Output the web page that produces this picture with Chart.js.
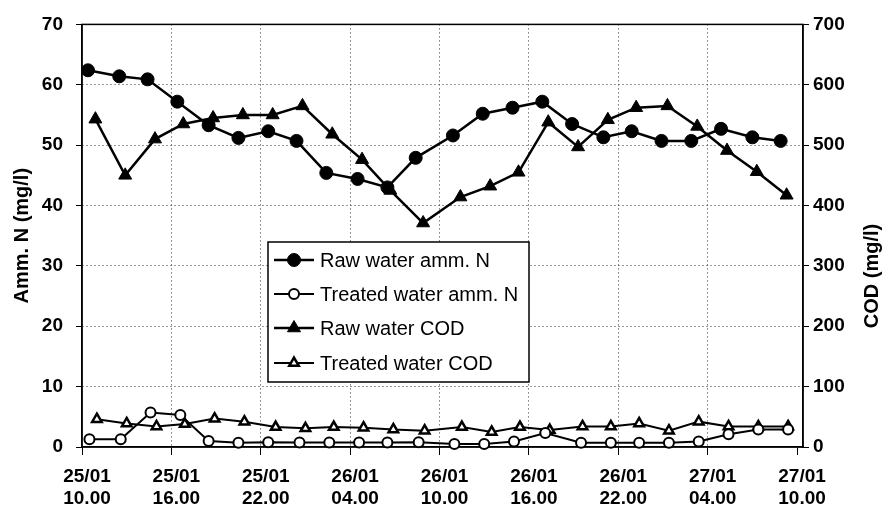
<!DOCTYPE html>
<html>
<head>
<meta charset="utf-8">
<script src="https://cdn.jsdelivr.net/npm/chart.js@4.4.1/dist/chart.umd.min.js"></script>
<style>
  html, body { margin: 0; padding: 0; background: #fff; }
  #wrap { position: relative; width: 885px; height: 508px; }
</style>
</head>
<body>
<div id="wrap"><canvas id="chart" width="885" height="508"></canvas></div>
<script>
// hours after 25/01 10.00
var rawNHours = [0.4, 2.5, 4.4, 6.4, 8.5, 10.5, 12.5, 14.4, 16.4, 18.5, 20.5, 22.4, 24.9, 26.9, 28.9, 30.9, 32.9, 35.0, 36.9, 38.9, 40.9, 42.9, 45.0, 46.9];
var rawN = [62.4, 61.4, 60.9, 57.2, 53.3, 51.2, 52.3, 50.7, 45.4, 44.4, 43.0, 47.9, 51.6, 55.2, 56.2, 57.2, 53.5, 51.3, 52.3, 50.7, 50.7, 52.7, 51.3, 50.7];

var treatedNHours = [0.5, 2.6, 4.6, 6.6, 8.5, 10.5, 12.5, 14.6, 16.6, 18.6, 20.5, 22.6, 25.0, 27.0, 29.0, 31.1, 33.5, 35.5, 37.4, 39.4, 41.4, 43.4, 45.4, 47.4];
var treatedN = [1.3, 1.3, 5.7, 5.3, 1.0, 0.7, 0.8, 0.75, 0.75, 0.75, 0.75, 0.8, 0.5, 0.5, 0.9, 2.3, 0.7, 0.7, 0.7, 0.7, 0.9, 2.1, 2.9, 2.9];

var rawCODHours = [0.9, 2.9, 4.9, 6.8, 8.8, 10.8, 12.8, 14.8, 16.8, 18.8, 20.7, 22.9, 25.4, 27.4, 29.3, 31.3, 33.3, 35.3, 37.2, 39.3, 41.3, 43.3, 45.3, 47.3];
var rawCOD = [543, 450, 510, 535, 545, 550, 550, 565, 518, 476, 425, 371, 414, 432, 455, 538, 497, 542, 562, 565, 531, 491, 456, 417];

var treatedCODHours = [1.0, 3.0, 5.0, 6.9, 8.9, 10.9, 13.0, 15.0, 16.9, 18.9, 20.9, 23.0, 25.5, 27.5, 29.4, 31.4, 33.6, 35.5, 37.4, 39.4, 41.4, 43.4, 45.4, 47.4];
var treatedCOD = [46, 39, 34, 38, 47, 42, 33, 31, 33, 32, 29, 27, 33, 25, 33, 28, 34, 34, 39, 27, 42, 34, 34, 34];

// x tick labels, one every 6 hours
var tickHours = [0, 6, 12, 18, 24, 30, 36, 42, 48];
var tickDays = ['25/01', '25/01', '25/01', '26/01', '26/01', '26/01', '26/01', '27/01', '27/01'];
var tickTimes = ['10.00', '16.00', '22.00', '04.00', '10.00', '16.00', '22.00', '04.00', '10.00'];

var FONT = "'Liberation Sans', Arial, sans-serif";

function pts(xs, ys) {
    return ys.map(function (v, i) { return { x: xs[i], y: v }; });
}

// grid: dotted inside, no line on the frame edges
function gridColor(ctx, ends) {
    var v = ctx.tick ? ctx.tick.value : null;
    return (ends.indexOf(v) >= 0) ? 'rgba(0,0,0,0)' : '#333';
}

// frame round the plot area
var framePlugin = {
    id: 'frame',
    beforeDatasetsDraw: function (chart) {
        var a = chart.chartArea, ctx = chart.ctx;
        ctx.save();
        ctx.strokeStyle = '#000';
        ctx.lineWidth = 1.5;
        ctx.setLineDash([]);
        ctx.strokeRect(a.left, a.top, a.right - a.left, a.bottom - a.top);
        ctx.restore();
    }
};

// legend box inside the plot, plus right axis title (reads bottom to top)
var boxPlugin = {
    id: 'box',
    afterDraw: function (chart) {
        var ctx = chart.ctx;
        ctx.save();
        ctx.setLineDash([]);
        ctx.fillStyle = '#fff';
        ctx.fillRect(268, 242, 261, 140);
        ctx.strokeStyle = '#000';
        ctx.lineWidth = 1.5;
        ctx.strokeRect(268, 242, 261, 140);

        var rows = [260, 294, 328, 363];
        chart.data.datasets.forEach(function (ds, i) {
            var y = rows[i];
            ctx.strokeStyle = '#000';
            ctx.lineWidth = ds.borderWidth;
            ctx.beginPath();
            ctx.moveTo(274, y);
            ctx.lineTo(314, y);
            ctx.stroke();
            ctx.fillStyle = ds.pointBackgroundColor;
            ctx.strokeStyle = '#000';
            ctx.lineWidth = ds.pointBorderWidth;
            Chart.helpers.drawPoint(ctx, {
                pointStyle: ds.pointStyle,
                radius: ds.pointRadius,
                rotation: 0,
                borderWidth: ds.pointBorderWidth
            }, 294, y);
            ctx.fillStyle = '#000';
            ctx.font = '20px ' + FONT;
            ctx.textAlign = 'left';
            ctx.textBaseline = 'middle';
            ctx.fillText(ds.label, 320, y + 1);
        });

        ctx.translate(872, 276);
        ctx.rotate(-Math.PI / 2);
        ctx.font = 'bold 20px ' + FONT;
        ctx.textAlign = 'center';
        ctx.textBaseline = 'middle';
        ctx.fillStyle = '#000';
        ctx.fillText('COD (mg/l)', 0, 0);
        ctx.restore();
    }
};

var ctx = document.getElementById('chart').getContext('2d');
var chart = new Chart(ctx, {
    type: 'line',
    data: {
        datasets: [{
            label: 'Raw water amm. N',
            data: pts(rawNHours, rawN),
            yAxisID: 'yN',
            borderColor: '#000',
            borderWidth: 2.5,
            pointStyle: 'circle',
            pointRadius: 6.5,
            pointBackgroundColor: '#000',
            pointBorderColor: '#000',
            pointBorderWidth: 1
        }, {
            label: 'Treated water amm. N',
            data: pts(treatedNHours, treatedN),
            yAxisID: 'yN',
            borderColor: '#000',
            borderWidth: 2,
            pointStyle: 'circle',
            pointRadius: 5,
            pointBackgroundColor: '#fff',
            pointBorderColor: '#000',
            pointBorderWidth: 2
        }, {
            label: 'Raw water COD',
            data: pts(rawCODHours, rawCOD),
            yAxisID: 'yCOD',
            borderColor: '#000',
            borderWidth: 2.5,
            pointStyle: 'triangle',
            pointRadius: 7.5,
            pointBackgroundColor: '#000',
            pointBorderColor: '#000',
            pointBorderWidth: 1
        }, {
            label: 'Treated water COD',
            data: pts(treatedCODHours, treatedCOD),
            yAxisID: 'yCOD',
            borderColor: '#000',
            borderWidth: 2,
            pointStyle: 'triangle',
            pointRadius: 5.5,
            pointBackgroundColor: '#fff',
            pointBorderColor: '#000',
            pointBorderWidth: 2.5
        }]
    },
    options: {
        responsive: false,
        devicePixelRatio: 1,
        animation: false,
        clip: false,
        layout: { padding: { top: 24, left: 0, right: 0, bottom: 0 } },
        plugins: {
            legend: { display: false },
            tooltip: { enabled: false }
        },
        scales: {
            x: {
                type: 'linear',
                position: 'bottom',
                min: 0,
                max: 48.4,
                afterBuildTicks: function (axis) {
                    axis.ticks = tickHours.map(function (h) { return { value: h }; });
                },
                afterFit: function (axis) { axis.height = 61; },
                ticks: {
                    autoSkip: false,
                    maxRotation: 0,
                    padding: 10,
                    labelOffset: 5,
                    color: '#000',
                    font: { family: FONT, size: 19, weight: 'bold', lineHeight: 1.2 },
                    callback: function (v) {
                        var i = tickHours.indexOf(v);
                        return i >= 0 ? [tickDays[i], tickTimes[i]] : '';
                    }
                },
                grid: {
                    color: function (c) { return gridColor(c, [0, 48]); },
                    tickBorderDash: [],
                    tickColor: '#000',
                    tickLength: 8,
                    lineWidth: 1
                },
                border: { color: '#000', width: 1.5, dash: [1, 3] }
            },
            yN: {
                type: 'linear',
                position: 'left',
                min: 0,
                max: 70,
                afterFit: function (axis) { axis.width = 82; },
                ticks: {
                    stepSize: 10,
                    padding: 13,
                    color: '#000',
                    font: { family: FONT, size: 19, weight: 'bold' }
                },
                grid: {
                    color: function (c) { return gridColor(c, [0, 70]); },
                    tickBorderDash: [],
                    tickColor: '#000',
                    tickLength: 6,
                    lineWidth: 1
                },
                border: { color: '#000', width: 1.5, dash: [1, 3] },
                title: {
                    display: true,
                    text: 'Amm. N (mg/l)',
                    color: '#000',
                    padding: { top: 10, bottom: 0 },
                    font: { family: FONT, size: 20, weight: 'bold' }
                }
            },
            yCOD: {
                type: 'linear',
                position: 'right',
                min: 0,
                max: 700,
                afterFit: function (axis) { axis.width = 82; },
                ticks: {
                    stepSize: 100,
                    padding: 4,
                    color: '#000',
                    font: { family: FONT, size: 19, weight: 'bold' }
                },
                grid: {
                    drawOnChartArea: false,
                    tickColor: '#000',
                    tickLength: 6
                },
                border: { color: '#000', width: 1.5 }
            }
        }
    },
    plugins: [framePlugin, boxPlugin]
});
</script>
</body>
</html>
